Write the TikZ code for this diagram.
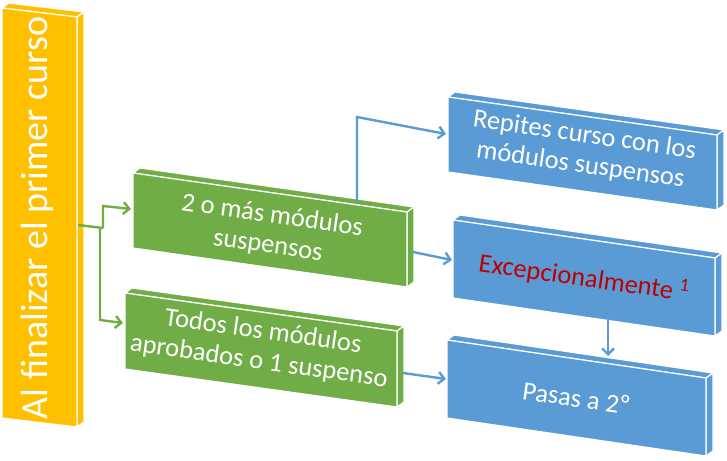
\documentclass[tikz,border=0pt]{standalone}
\usepackage{fontspec}
\setmainfont{Carlito}
\usetikzlibrary{arrows.meta}

\definecolor{naranja}{HTML}{FFC000}
\definecolor{verde}{HTML}{70AD47}
\definecolor{azul}{HTML}{5B9BD5}
\definecolor{rojo}{HTML}{C00000}

\tikzset{
  cara/.style={draw=white, line width=1.2pt, line join=round},
  lineaverde/.style={draw=verde, line width=2.4pt},
  flechaverde/.style={lineaverde, -{Straight Barb[length=6pt,width=12pt]}},
  flechaazul/.style={draw=azul, line width=2.4pt, -{Straight Barb[length=6pt,width=12pt]}},
  texto/.style={text=white, font=\fontsize{26.5}{30}\selectfont, align=center, rotate=-8.1}
}

% caja en perspectiva: nombre, x, y, ancho, alto, caida, color
\newcommand{\caja}[7]{%
  \fill[#7, cara] (#2+7,#3-5) -- (#2+#4+7,#3+#6-5) -- (#2+#4,#3+#6) -- (#2,#3) -- cycle;
  \fill[#7, cara] (#2+#4,#3+#6) -- (#2+#4+7,#3+#6-5) -- (#2+#4+7,#3+#6+#5-5) -- (#2+#4,#3+#6+#5) -- cycle;
  \fill[#7, cara] (#2,#3) -- (#2+#4,#3+#6) -- (#2+#4,#3+#6+#5) -- (#2,#3+#5) -- cycle;
  \coordinate (#1) at (#2+#4/2, #3+#6/2+#5/2);
}

\begin{document}
\begin{tikzpicture}[x=1pt, y=-1pt]
    \useasboundingbox (0,0) rectangle (727,460);

    % cajas
    \caja{curso}{2}{8}{75}{410}{9}{naranja}
    \caja{dosmas}{133}{173}{274}{75}{39}{verde}
    \caja{todos}{125}{293}{272}{76}{38}{verde}
    \caja{repites}{448}{97}{269}{75}{38}{azul}
    \caja{excep}{453}{220}{262}{78}{38}{azul}
    \caja{pasas}{447}{340}{259}{78}{38}{azul}

    % textos
    \node[text=white, font=\fontsize{38}{41}\selectfont, rotate=90] (curso-t) at (37,218) {Al finalizar el primer curso};
    \node[texto] (dosmas-t) at ([yshift=-1]dosmas) {2 o más módulos\\suspensos};
    \node[texto] (todos-t) at ([yshift=3]todos) {Todos los módulos\\aprobados o 1 suspenso};
    \node[texto] (repites-t) at ([yshift=3]repites) {Repites curso con los\\módulos suspensos};
    \node[texto, text=rojo] (excep-t) at (excep) {Excepcionalmente \textsuperscript{1}};
    \node[texto] (pasas-t) at (pasas) {Pasas a 2º};

    % conectores verdes
    \coordinate (curso-sal) at (78,225);
    \coordinate (codo) at (103,228);
    \coordinate (codo-ar) at (103,206);
    \coordinate (dosmas-ent) at (131,209);
    \coordinate (codo-b) at (100,228);
    \coordinate (codo-ab) at (100,320);
    \coordinate (todos-ent) at (123,323);
    \draw[lineaverde] (curso-sal) -- (codo);
    \draw[flechaverde] (codo) -- (codo-ar) -- (dosmas-ent);
    \draw[flechaverde] (codo-b) -- (codo-ab) -- (todos-ent);

    % conectores azules
    \coordinate (dosmas-ar) at (357,202);
    \coordinate (esquina) at (357,117);
    \coordinate (repites-ent) at (446,134);
    \coordinate (dosmas-der) at (413,252);
    \coordinate (excep-ent) at (452,260);
    \coordinate (todos-der) at (403,373);
    \coordinate (pasas-ent) at (446,379);
    \coordinate (excep-ab) at (608,320);
    \coordinate (pasas-ar) at (608,356);
    \draw[flechaazul] (dosmas-ar) -- (esquina) -- (repites-ent);
    \draw[flechaazul] (dosmas-der) -- (excep-ent);
    \draw[flechaazul] (todos-der) -- (pasas-ent);
    \draw[flechaazul] (excep-ab) -- (pasas-ar);

\end{tikzpicture}
\end{document}
